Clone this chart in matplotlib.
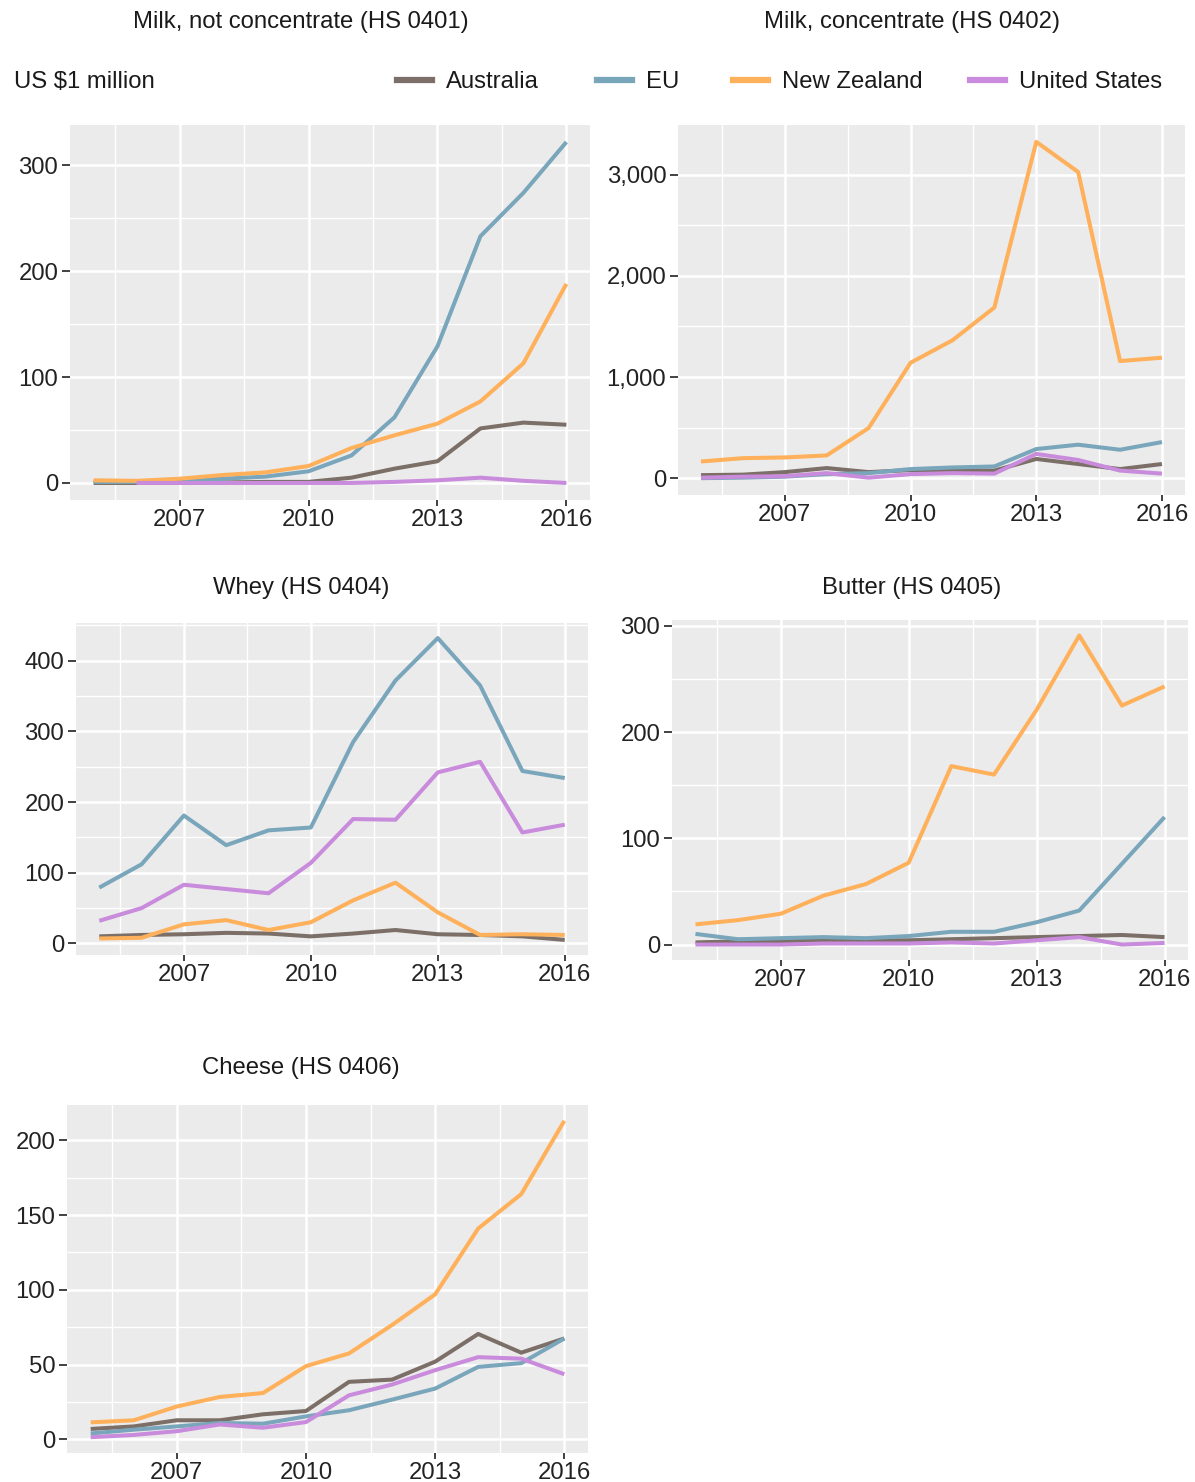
import numpy as np
import matplotlib
matplotlib.use("Agg")
import matplotlib.pyplot as plt
from matplotlib.ticker import FuncFormatter, MultipleLocator

plt.rcParams["font.family"] = ["Liberation Sans", "DejaVu Sans"]

years = np.arange(2005, 2017)
countries = ["Australia", "EU", "New Zealand", "United States"]
colors = {"Australia": "#7b6f67", "EU": "#7aa6bb",
          "New Zealand": "#ffb05a", "United States": "#c98bdb"}

# US $1 million, 2005-2016
milk_aus = [0, 0, 0, 0.5, 1, 1, 5, 13.5, 20.5, 51.5, 57, 55]
milk_eu = [1, 1, 2, 4, 6, 11, 26, 62, 129, 233, 274, 322]
milk_nz = [2.5, 2, 4, 7.5, 10, 16, 33, 45, 56, 77, 113, 188]
milk_us = [np.nan, 0, 0, 0, 0, 0, 0, 1, 2.5, 5, 2, 0]

conc_aus = [30, 35, 60, 100, 60, 80, 80, 75, 190, 140, 90, 140]
conc_eu = [0, 5, 15, 40, 50, 90, 106, 116, 288, 331, 281, 357]
conc_nz = [165, 198, 205, 225, 496, 1141, 1363, 1687, 3325, 3027, 1158, 1191]
conc_us = [5, 15, 20, 50, 5, 40, 50, 45, 240, 180, 75, 45]

whey_aus = [10, 12, 13, 15, 14, 10, 14, 19, 13, 12, 10, 5]
whey_eu = [79, 112, 181, 139, 160, 164, 285, 372, 432, 365, 244, 234]
whey_nz = [7, 8, 27, 33, 19, 30, 61, 86, 44, 12, 13, 12]
whey_us = [32, 50, 83, 77, 71, 114, 176, 175, 242, 257, 157, 168]

butter_aus = [2, 3, 3, 4, 4, 4, 5, 6, 7, 8, 9, 7]
butter_eu = [10, 5, 6, 7, 6, 8, 12, 12, 21, 32, 76, 120]
butter_nz = [19, 23, 29, 46, 57, 77, 168, 160, 221, 291, 225, 243]
butter_us = [0, 0, 0, 1, 1, 1, 2, 1, 4, 7, 0, 1.5]

cheese_aus = [7, 8.7, 12.8, 12.8, 16.8, 19, 38.5, 40, 52, 70.5, 58, 67.5]
cheese_eu = [4, 6.5, 8.7, 11, 10.5, 15.4, 19.5, 26.6, 34, 48.5, 51, 67.5]
cheese_nz = [11.4, 12.8, 22, 28.4, 31, 49, 57.5, 76.5, 97, 141, 164, 213]
cheese_us = [1.5, 3, 5.5, 10, 7.8, 11.6, 29.5, 36.7, 46.3, 55, 54, 43.6]

# title, series, panel box (left, top, right, bottom in px), y step, title x/y
panels = [
    ("Milk, not concentrate (HS 0401)", [milk_aus, milk_eu, milk_nz, milk_us],
     (70, 125, 590, 500), 100, (301, 20)),
    ("Milk, concentrate (HS 0402)", [conc_aus, conc_eu, conc_nz, conc_us],
     (678, 125, 1185, 495), 1000, (912, 20)),
    ("Whey (HS 0404)", [whey_aus, whey_eu, whey_nz, whey_us],
     (76, 623, 588, 955), 100, (301, 586)),
    ("Butter (HS 0405)", [butter_aus, butter_eu, butter_nz, butter_us],
     (672, 620, 1188, 960), 100, (912, 586)),
    ("Cheese (HS 0406)", [cheese_aus, cheese_eu, cheese_nz, cheese_us],
     (67, 1105, 588, 1453), 50, (301, 1066)),
]

W, H = 1195, 1482
FS = 17.2
fig = plt.figure(figsize=(W / 100, H / 100), dpi=100)

for title, series, (l, t, r, b), step, (tx, ty) in panels:
    ax = fig.add_axes([l / W, 1 - b / H, (r - l) / W, (b - t) / H])
    ax.set_facecolor("#ebebeb")
    for name, vals in zip(countries, series):
        ax.plot(years, vals, color=colors[name], lw=2.9, solid_capstyle="butt",
                zorder=3)
    allv = np.array(series, dtype=float)
    lo, hi = np.nanmin(allv), np.nanmax(allv)
    pad = (hi - lo) * 0.05
    ax.set_ylim(lo - pad, hi + pad)
    ax.set_xlim(2004.45, 2016.55)
    ax.set_xticks([2007, 2010, 2013, 2016])
    ax.set_xticks([2005.5, 2008.5, 2011.5, 2014.5], minor=True)
    ax.yaxis.set_major_locator(MultipleLocator(step))
    ax.yaxis.set_minor_locator(MultipleLocator(step / 2))
    ax.yaxis.set_major_formatter(FuncFormatter(lambda v, p: f"{v:,.0f}"))
    ax.grid(which="major", color="white", lw=1.8, zorder=1)
    ax.grid(which="minor", color="white", lw=1.0, zorder=1)
    ax.tick_params(which="major", length=4.5, width=1.3, color="#333333",
                   labelsize=FS, labelcolor="#222222", pad=2)
    ax.tick_params(axis="y", which="major", length=6, pad=2.5)
    ax.tick_params(which="minor", length=0)
    for s in ax.spines.values():
        s.set_visible(False)
    fig.text(tx / W, 1 - (ty + 2) / H, title, ha="center", va="center",
             fontsize=FS, color="#1a1a1a")

# unit label and legend row
fig.text(14 / W, 1 - 82 / H, "US $1 million", ha="left", va="center",
         fontsize=FS, color="#1a1a1a")
legend_x = [397, 597, 733, 970]
for name, lx in zip(countries, legend_x):
    fig.add_artist(plt.Line2D([lx / W, (lx + 35) / W], [1 - 80 / H, 1 - 80 / H],
                              color=colors[name], lw=4.5,
                              transform=fig.transFigure))
    fig.text((lx + 49) / W, 1 - 82 / H, name, ha="left", va="center",
             fontsize=FS, color="#1a1a1a")

fig.savefig("out.png", dpi=100, facecolor="white")
